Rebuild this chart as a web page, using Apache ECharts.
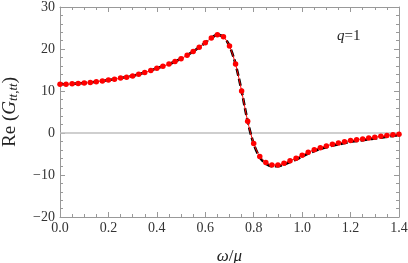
<!DOCTYPE html>
<html><head><meta charset="utf-8">
<script src="https://cdn.jsdelivr.net/npm/echarts@6/dist/echarts.min.js"></script>
<style>html,body{margin:0;padding:0;background:#fff}#c{width:408px;height:263px}</style>
</head><body><div id="c"></div>
<script>
const omega = [0.000,0.025,0.050,0.075,0.100,0.125,0.150,0.175,0.200,0.225,0.250,0.275,0.300,0.325,0.350,0.375,0.400,0.425,0.450,0.475,0.500,0.525,0.550,0.575,0.600,0.625,0.650,0.675,0.700,0.725,0.750,0.775,0.800,0.825,0.850,0.875,0.900,0.925,0.950,0.975,1.000,1.025,1.050,1.075,1.100,1.125,1.150,1.175,1.200,1.225,1.250,1.275,1.300,1.325,1.350,1.375,1.400];
const redValues = [11.6,11.6,11.7,11.8,11.9,12.0,12.2,12.4,12.6,12.8,13.1,13.3,13.6,14.0,14.4,14.9,15.4,15.9,16.4,17.0,17.7,18.5,19.4,20.4,21.5,22.6,23.4,22.9,20.7,16.4,10.0,2.8,-2.5,-5.6,-7.0,-7.6,-7.6,-7.2,-6.6,-6.0,-5.3,-4.6,-4.0,-3.5,-3.1,-2.7,-2.4,-2.1,-1.8,-1.6,-1.4,-1.2,-1.0,-0.8,-0.6,-0.4,-0.3];
const blackValues = [11.6,11.6,11.7,11.8,11.9,12.0,12.2,12.4,12.6,12.8,13.1,13.3,13.6,14.0,14.4,14.9,15.4,15.9,16.4,17.0,17.7,18.5,19.4,20.4,21.5,22.6,23.4,22.9,20.7,16.4,10.0,2.8,-2.6,-5.8,-7.3,-7.9,-7.9,-7.5,-6.9,-6.3,-5.6,-4.9,-4.3,-3.8,-3.4,-3.0,-2.7,-2.4,-2.1,-1.9,-1.7,-1.5,-1.3,-1.1,-0.9,-0.7,-0.5];
const xTicks = [0.0,0.2,0.4,0.6,0.8,1.0,1.2,1.4];
const yTicks = [-20,-10,0,10,20,30];

const chart = echarts.init(document.getElementById('c'));
const serif = '"Liberation Serif","DejaVu Serif",serif';
const axisCol = '#999';
const lbl = {fontFamily: serif, fontSize: 14, color: '#333'};
function tickCfg(len){return {show:true, inside:true, length:len, lineStyle:{color:axisCol, width:1}};}
chart.setOption({
  animation:false,
  grid:{left:60, right:9, top:7, bottom:46, containLabel:false, outerBoundsMode:'none'},
  xAxis:[{
    type:'value', min:xTicks[0], max:xTicks[xTicks.length-1], interval:0.2,
    axisLine:{show:true, onZero:false, lineStyle:{color:axisCol, width:1}},
    axisTick:tickCfg(5), minorTick:{show:true, splitNumber:4, length:3, lineStyle:{color:axisCol}},
    splitLine:{show:false},
    axisLabel:Object.assign({margin:4, formatter:v=>v.toFixed(1)}, lbl),
    name:'{i|ω}{n|/}{i|μ}', nameLocation:'middle', nameGap:31,
    nameTextStyle:{rich:{i:{fontFamily:serif, fontStyle:'italic', fontSize:17, color:'#222'}, n:{fontFamily:serif, fontSize:17, color:'#222'}}}
  },{
    type:'value', position:'top', min:xTicks[0], max:xTicks[xTicks.length-1], interval:0.2,
    axisLine:{show:true, onZero:false, lineStyle:{color:axisCol, width:1}},
    axisTick:tickCfg(5), minorTick:{show:true, splitNumber:4, length:3, lineStyle:{color:axisCol}},
    splitLine:{show:false}, axisLabel:{show:false}
  }],
  yAxis:[{
    type:'value', min:yTicks[0], max:yTicks[yTicks.length-1], interval:10,
    axisLine:{show:true, onZero:false, lineStyle:{color:axisCol, width:1}},
    axisTick:tickCfg(5), minorTick:{show:true, splitNumber:5, length:3, lineStyle:{color:axisCol}},
    splitLine:{show:false},
    axisLabel:Object.assign({margin:5, formatter:v=>v<0?'\u2212'+Math.abs(v):String(v)}, lbl),
    name:'{n|Re (}{i|G}{s|tt,tt}{n|)}', nameLocation:'middle', nameGap:40, nameRotate:90,
    nameTextStyle:{rich:{
      n:{fontFamily:serif, fontSize:19, color:'#222'},
      i:{fontFamily:serif, fontStyle:'italic', fontSize:19, color:'#222'},
      s:{fontFamily:serif, fontStyle:'italic', fontSize:13, color:'#222', verticalAlign:'bottom', padding:[7,0,0,0]}
    }}
  },{
    type:'value', position:'right', min:yTicks[0], max:yTicks[yTicks.length-1], interval:10,
    axisLine:{show:true, onZero:false, lineStyle:{color:axisCol, width:1}},
    axisTick:tickCfg(5), minorTick:{show:true, splitNumber:5, length:3, lineStyle:{color:axisCol}},
    splitLine:{show:false}, axisLabel:{show:false}
  }],
  series:[
    {type:'line', data:omega.map((w,i)=>[w,0]), showSymbol:false, silent:true,
     lineStyle:{color:'#c0c0c0', width:1.5}, z:1},
    {type:'line', data:omega.map((w,i)=>[w,blackValues[i]]), showSymbol:false, smooth:0.3,
     lineStyle:{color:'#000', width:2.6, type:[7,3]}, z:2},
    {type:'line', data:omega.map((w,i)=>[w,redValues[i]]), symbol:'circle', symbolSize:5.5, smooth:0.3,
     lineStyle:{color:'#ff0000', width:1}, itemStyle:{color:'#ff0000'}, z:3}
  ],
  graphic:[{type:'text', left:337, top:29, style:{
    text:'{i|q}{n|=1}', rich:{i:{fontFamily:serif, fontStyle:'italic', fontSize:15, fill:'#222'}, n:{fontFamily:serif, fontSize:15, fill:'#222'}}}}]
});
</script></body></html>
